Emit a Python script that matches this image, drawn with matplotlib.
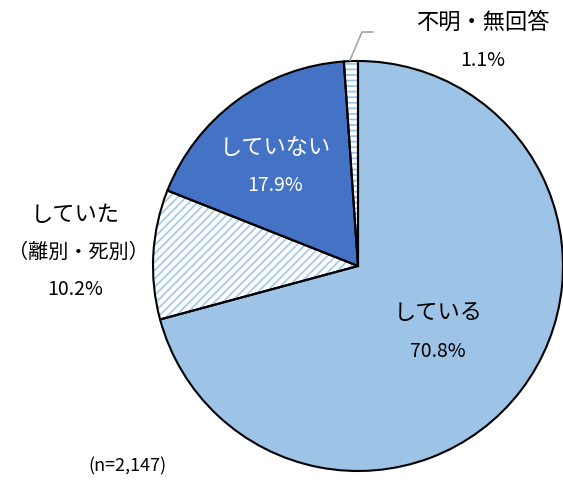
import matplotlib as mpl
import matplotlib.pyplot as plt

mpl.rcParams['font.family'] = ['Noto Sans CJK JP', 'DejaVu Sans']
mpl.rcParams['hatch.linewidth'] = 1.3

labels = ['している', 'していた\n（離別・死別）', 'していない', '不明・無回答']
values = [70.8, 10.2, 17.9, 1.1]
pct_labels = ['70.8%', '10.2%', '17.9%', '1.1%']
n_label = '(n=2,147)'

W, H = 563, 481
fig = plt.figure(figsize=(W / 100, H / 100), dpi=100)
ax = fig.add_axes([0, 0, 1, 1])

cx, cy, r = 358, 267, 205
face = ['#9DC3E6', 'white', '#4472C4', 'white']
hatch_col = ['#9DC3E6', '#A9CBEA', '#4472C4', '#9DC3E6']
hatches = [None, '////', None, '---']

# fill + hatch (y axis is inverted, so counterclock=True draws clockwise on screen)
wedges, _ = ax.pie(values, startangle=-90, counterclock=True, center=(cx, cy),
                   radius=r, colors=face, frame=True)
for w, hc, h in zip(wedges, hatch_col, hatches):
    w.set_edgecolor(hc)
    w.set_linewidth(0)
    if h:
        w.set_hatch(h)
# outlines
ax.pie(values, startangle=-90, counterclock=True, center=(cx, cy), radius=r,
       frame=True, wedgeprops=dict(fill=False, edgecolor='black', linewidth=1.5))
ax.set_xlim(0, W)
ax.set_ylim(H, 0)
ax.set_aspect('equal')
ax.axis('off')

fs = 16
ps = 14
ax.text(438, 313, labels[0], ha='center', va='center', fontsize=fs)
ax.text(438, 352, pct_labels[0], ha='center', va='center', fontsize=ps)
ax.text(275, 148, labels[2], ha='center', va='center', fontsize=fs, color='white')
ax.text(275, 186, pct_labels[2], ha='center', va='center', fontsize=ps, color='white')
l1, l2 = labels[1].split('\n')
ax.text(75, 215, l1, ha='center', va='center', fontsize=fs)
ax.text(78, 252, l2, ha='center', va='center', fontsize=14.5)
ax.text(75, 290, pct_labels[1], ha='center', va='center', fontsize=ps)
ax.text(483, 22, labels[3], ha='center', va='center', fontsize=fs)
ax.text(483, 60, pct_labels[3], ha='center', va='center', fontsize=ps)
ax.plot([350, 362, 373], [61, 33, 33], color='#A6A6A6', lw=1.2)
ax.text(127, 466, n_label, ha='center', va='center', fontsize=13)

fig.savefig('out.png', dpi=100)
